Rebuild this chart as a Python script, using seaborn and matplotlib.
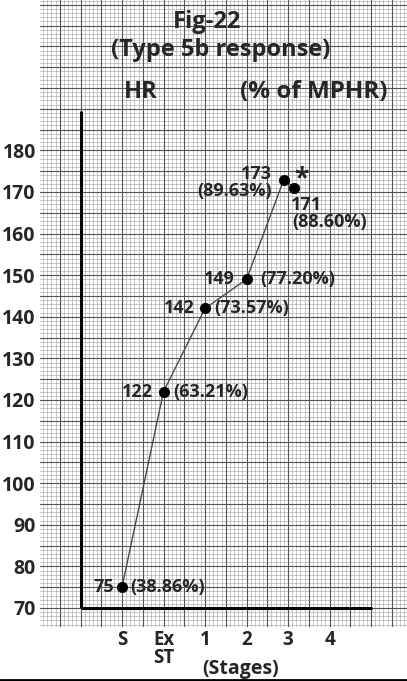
import numpy as np
import pandas as pd
import matplotlib.pyplot as plt
import seaborn as sns

# --- datos ---
etapas = ['S', 'Ex\nST', '1', '2', '3', '4']
pos_etapa = [0, 1, 2, 3, 4, 5]
x_punto = [0, 1, 2, 3, 3.9, 4.15]
hr = [75, 122, 142, 149, 173, 171]
pct = ['(38.86%)', '(63.21%)', '(73.57%)', '(77.20%)', '(89.63%)', '(88.60%)']
y_ticks = [70, 80, 90, 100, 110, 120, 130, 140, 150, 160, 170, 180]

df = pd.DataFrame({'x': x_punto, 'hr': hr})

sns.set_style('white')
plt.rcParams['font.family'] = ['Open Sans', 'DejaVu Sans']
plt.rcParams['font.weight'] = 'bold'

W, H = 407, 681
fig = plt.figure(figsize=(W / 100, H / 100), dpi=100)
ax = fig.add_axes([40 / W, (H - 627) / H, (W - 40) / W, 627 / H])

x0, x1 = -1.976, 6.867
y0, y1 = 65.43, 216.15
ax.set_xlim(x0, x1)
ax.set_ylim(y0, y1)

# papel milimetrado
for v in np.arange(-2, 7, 0.1):
    ax.axvline(v, color='#a8a8a8', lw=0.45, zorder=0)
for v in np.arange(65, 217, 1):
    ax.axhline(v, color='#a8a8a8', lw=0.45, zorder=0)
for v in np.arange(-2, 7.01, 0.5):
    ax.axvline(v, color='#555555', lw=0.8, zorder=0)
for v in np.arange(65, 217, 5):
    ax.axhline(v, color='#555555', lw=0.8, zorder=0)

for s in ax.spines.values():
    s.set_visible(False)

# ejes dibujados a mano
ax.plot([-1, -1], [70, 189.5], color='black', lw=2.2, zorder=3, solid_capstyle='butt')
ax.plot([-1, 6.02], [70, 70], color='black', lw=2.2, zorder=3, solid_capstyle='butt')

sns.lineplot(data=df, x='x', y='hr', color='#4a4a4a', lw=1.0, ax=ax, zorder=4, sort=False)
sns.scatterplot(data=df, x='x', y='hr', color='black', s=55, marker='o',
                edgecolor='black', ax=ax, zorder=5)

ax.set_xticks(pos_etapa)
ax.set_xticklabels(etapas, fontsize=13.5, fontweight='bold', linespacing=0.9)
ax.set_yticks(y_ticks)
ax.set_yticklabels([str(t) for t in y_ticks], fontsize=14, fontweight='bold')
ax.tick_params(axis='both', length=0)
ax.tick_params(axis='x', pad=2)
ax.tick_params(axis='y', pad=3)
ax.set_xlabel('')
ax.set_ylabel('')

fs = 13
offs_hr = [(-8, 0), (-10, 0), (-10, 0), (-12, 0), (-12, 6), (-3, -17)]
offs_pct = [(8, 0), (10, 0), (9, 0), (14, 0), (-12, -11), (-2, -34)]
ha_hr = ['right', 'right', 'right', 'right', 'right', 'left']
ha_pct = ['left', 'left', 'left', 'left', 'right', 'left']
for i in range(len(hr)):
    ax.annotate(str(hr[i]), (x_punto[i], hr[i]), xytext=offs_hr[i],
                textcoords='offset pixels', ha=ha_hr[i], va='center',
                fontsize=fs, fontweight='bold', zorder=6)
    ax.annotate(pct[i], (x_punto[i], hr[i]), xytext=offs_pct[i],
                textcoords='offset pixels', ha=ha_pct[i], va='center',
                fontsize=fs, fontweight='bold', zorder=6)
ax.annotate('*', (x_punto[4], hr[4]), xytext=(18, 1), textcoords='offset pixels',
            ha='center', va='center', fontsize=19, fontweight='bold')

ax.text(2.865, y0 - 7.6, '(Stages)', fontsize=14, fontweight='bold',
        ha='center', va='top')

def ftxt(px, py, s, size=16.5):
    fig.text(px / W, 1 - py / H, s, ha='center', va='center',
             fontsize=size, fontweight='bold')

ftxt(207, 22, 'Fig-22', 17)
ftxt(221, 50, '(Type 5b response)', 17)
ftxt(141, 92, 'HR', 17)
ftxt(314, 92, '(% of MPHR)', 17.5)

fig.add_artist(plt.Line2D([0, 1], [1.5 / H, 1.5 / H], color='black', lw=2))

fig.savefig('out.png', dpi=100)
